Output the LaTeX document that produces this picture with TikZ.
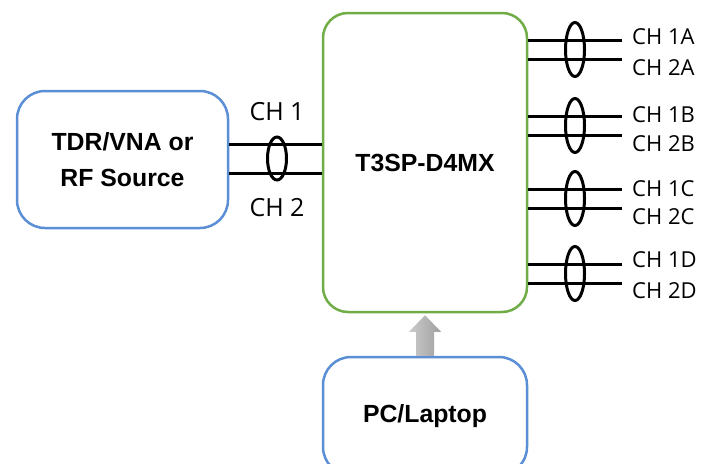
\documentclass[tikz,border=0pt]{standalone}
\usepackage{fontspec}
\setmainfont{Liberation Sans}
\newfontfamily\chfont{Open Sans}
\usetikzlibrary{positioning,shapes.geometric,calc}
\definecolor{boxblue}{RGB}{91,143,213}
\definecolor{boxgreen}{RGB}{112,173,71}

\begin{document}
\begin{tikzpicture}[x=1pt,y=-1pt,
				unit box/.style = {draw=boxblue, line width=2.5pt, rounded corners=28pt, fill=white, align=center,
					minimum width=211pt, font=\fontsize{24.8}{36}\selectfont\bfseries},
				dmx box/.style = {draw=boxgreen, line width=2.5pt, rounded corners=25pt, fill=white,
					minimum width=204pt, minimum height=299pt, font=\fontsize{24.8}{30}\selectfont\bfseries},
				bundle/.style = {ellipse, draw, line width=3pt, inner sep=0pt, minimum width=19pt, minimum height=54pt},
				wire/.style = {line width=3pt},
				ch label/.style = {inner sep=0pt, font=\chfont\fontsize{25}{25}\selectfont},
				port label/.style = {anchor=west, inner sep=0pt, font=\chfont\fontsize{22}{22}\selectfont}]
				
				\useasboundingbox (0,0) rectangle (711,463);
				
				\node[unit box, minimum height=137pt] (src) at (122.5,159.5) {TDR/VNA or\\RF Source};
				\node[dmx box] (dmx) at (425,162.5) {T3SP-D4MX};
				\node[unit box, minimum width=204pt, minimum height=118pt] (pc) at (425,416) {PC/Laptop};
				
				% control link
				\shade[left color=gray!40, right color=gray!75]
				($(pc.north)+(-9,0)$) -- ($(pc.north)+(-9,-24)$) -- ($(pc.north)+(-16,-24)$)
				-- ($(dmx.south)+(0,2)$) -- ($(pc.north)+(16,-24)$) -- ($(pc.north)+(9,-24)$)
				-- ($(pc.north)+(9,0)$) -- cycle;
				
				% input pair
				\coordinate (c1) at (0,144);
				\coordinate (c2) at (0,173);
				\draw[wire] (src.east |- c1) -- (dmx.west |- c1);
				\draw[wire] (src.east |- c2) -- (dmx.west |- c2);
				\node[bundle, minimum height=43pt] (b0) at (277,158.5) {};
				\node[ch label, above=15pt of b0] (l1) {CH 1};
				\node[ch label, below=17pt of b0] (l2) {CH 2};
				
				% output pairs
				\coordinate (e1a) at (622,40);
				\coordinate (e2a) at (622,59);
				\draw[wire] (dmx.east |- e1a) -- (e1a);
				\draw[wire] (dmx.east |- e2a) -- (e2a);
				\node[bundle] (b1) at (575,49.5) {};
				\node[port label] (p1a) at (632,36.5) {CH 1A};
				\node[port label] (p2a) at (632,67.5) {CH 2A};
				
				\coordinate (e1b) at (622,116);
				\coordinate (e2b) at (622,135);
				\draw[wire] (dmx.east |- e1b) -- (e1b);
				\draw[wire] (dmx.east |- e2b) -- (e2b);
				\node[bundle] (b2) at (575,125.5) {};
				\node[port label] (p1b) at (632,115) {CH 1B};
				\node[port label] (p2b) at (632,143.5) {CH 2B};
				
				\coordinate (e1c) at (622,189);
				\coordinate (e2c) at (622,208);
				\draw[wire] (dmx.east |- e1c) -- (e1c);
				\draw[wire] (dmx.east |- e2c) -- (e2c);
				\node[bundle] (b3) at (575,198.5) {};
				\node[port label] (p1c) at (632,189) {CH 1C};
				\node[port label] (p2c) at (632,217) {CH 2C};
				
				\coordinate (e1d) at (622,264);
				\coordinate (e2d) at (622,283);
				\draw[wire] (dmx.east |- e1d) -- (e1d);
				\draw[wire] (dmx.east |- e2d) -- (e2d);
				\node[bundle] (b4) at (575,273.5) {};
				\node[port label] (p1d) at (632,259.5) {CH 1D};
				\node[port label] (p2d) at (632,290.5) {CH 2D};
				
				\end{tikzpicture}
\end{document}
